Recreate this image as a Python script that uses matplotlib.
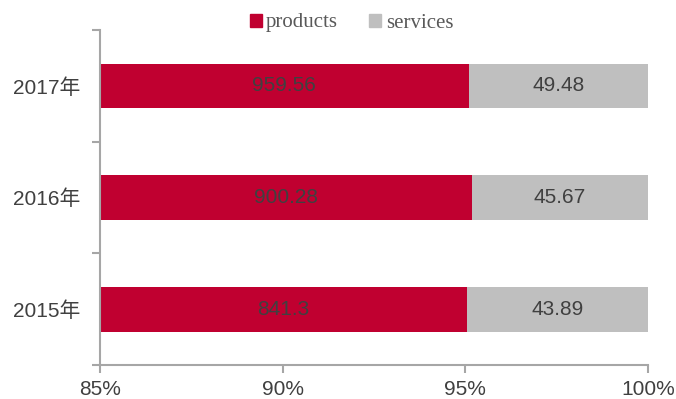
import numpy as np
import matplotlib
matplotlib.use('Agg')
import matplotlib.pyplot as plt
from matplotlib.patches import Patch
from matplotlib.ticker import FixedLocator, PercentFormatter

plt.rcParams['font.family'] = ['Liberation Sans', 'Noto Sans CJK SC']

# data
years = ['2015年', '2016年', '2017年']
products = [841.3, 900.28, 959.56]
services = [43.89, 45.67, 49.48]

red = '#C00030'
grey = '#BFBFBF'
text_col = '#404040'
axis_col = '#A6A6A6'

prod = np.array(products)
serv = np.array(services)
total = prod + serv
p_share = prod / total * 100
s_share = serv / total * 100

fig = plt.figure(figsize=(6.76, 3.99), dpi=100)
ax = fig.add_axes([100 / 676, 1 - 365 / 399, 548 / 676, 335 / 399])

y = np.arange(len(years))
ax.barh(y, p_share, height=0.4, color=red, label='products')
ax.barh(y, s_share, left=p_share, height=0.4, color=grey, label='services')

xmin, xmax = 85, 100
ax.set_xlim(xmin, xmax)
ax.set_ylim(-0.5, len(years) - 0.5)

# value labels (centred on visible part of each segment)
for i in range(len(years)):
    ax.text((xmin + p_share[i]) / 2, y[i], f'{products[i]:g}', ha='center', va='center',
            fontsize=15, color=text_col)
    ax.text(p_share[i] + s_share[i] / 2, y[i], f'{services[i]:g}', ha='center', va='center',
            fontsize=15, color=text_col)

ax.set_xticks([85, 90, 95, 100])
ax.xaxis.set_major_formatter(PercentFormatter(decimals=0))
ax.set_yticks(y)
ax.set_yticklabels(years)
ax.yaxis.set_minor_locator(FixedLocator(np.arange(-0.5, len(years), 1.0)))
ax.tick_params(axis='y', which='major', length=0, pad=14, labelsize=15, labelcolor=text_col)
ax.tick_params(axis='y', which='minor', length=6, width=1.5, color=axis_col)
ax.tick_params(axis='x', length=6, width=1.5, color=axis_col, labelsize=15,
               labelcolor=text_col, pad=4.5)

for s in ['top', 'right']:
    ax.spines[s].set_visible(False)
for s in ['left', 'bottom']:
    ax.spines[s].set_color(axis_col)
    ax.spines[s].set_linewidth(1.5)

handles = [Patch(color=red, label='products'), Patch(color=grey, label='services')]
fig.legend(handles=handles, loc='center', bbox_to_anchor=(0.52, 1 - 23 / 399), ncol=2,
           frameon=False, handlelength=0.58, handleheight=0.58, handletextpad=0.2,
           columnspacing=1.5, prop={'family': 'Liberation Serif', 'size': 15},
           labelcolor='#595959', borderpad=0.2)

fig.savefig('out.png', dpi=100)
